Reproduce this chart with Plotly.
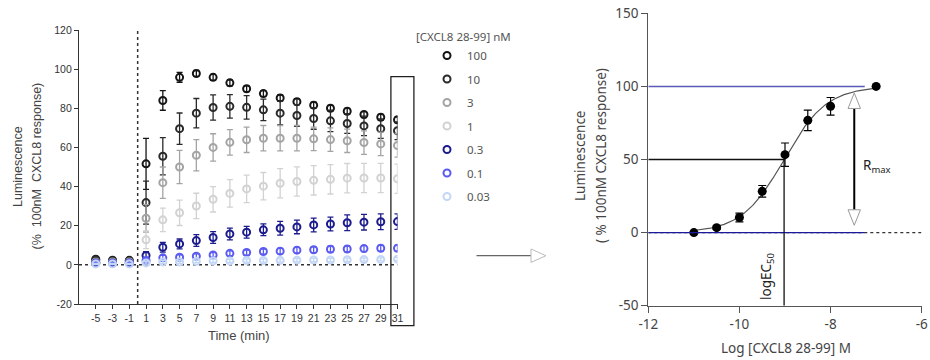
import numpy as np
import plotly.graph_objects as go

W, H = 930, 360

# ---- time course: luminescence (% of 100 nM CXCL8 response) ----
time_min = [-5, -3, -1, 1, 3, 5, 7, 9, 11, 13, 15, 17, 19, 21, 23, 25, 27, 29, 31]
x_ticks = time_min
y_ticks_left = [-20, 0, 20, 40, 60, 80, 100, 120]

conc_labels = ["100", "10", "3", "1", "0.3", "0.1", "0.03"]
conc_colors = ["#151515", "#2a2a2a", "#a4a4a4", "#d2d2d2", "#1c1c8e", "#5b5bf2", "#c4d6f6"]

resp_100 = [2.9, 2.4, 2.3, 51.6, 84.0, 95.8, 97.8, 95.8, 93.0, 90.0, 87.5, 85.3, 83.4, 81.6, 80.0, 78.5, 76.8, 75.4, 74.1]
err_100 = [0.8, 0.8, 0.8, 13.0, 5.0, 2.5, 1.5, 1.5, 1.5, 1.5, 1.5, 1.5, 1.5, 1.5, 1.5, 1.5, 1.5, 1.5, 1.5]
resp_10 = [2.5, 2.0, 2.0, 31.8, 55.5, 69.6, 77.5, 80.4, 81.0, 80.5, 79.2, 77.5, 76.3, 74.8, 73.6, 72.2, 71.0, 69.6, 68.5]
err_10 = [0.8, 0.8, 0.8, 11.0, 9.5, 8.0, 7.5, 6.5, 6.0, 6.0, 5.5, 6.0, 5.5, 5.5, 5.5, 5.0, 5.0, 5.0, 4.5]
resp_3 = [1.5, 1.5, 1.5, 23.8, 42.0, 50.0, 56.0, 60.0, 62.6, 63.9, 64.7, 64.7, 64.7, 64.4, 64.0, 63.4, 62.5, 61.8, 61.0]
err_3 = [0.6, 0.6, 0.6, 7.0, 8.0, 8.5, 8.0, 7.0, 6.5, 6.5, 6.5, 6.5, 6.5, 6.0, 6.0, 6.0, 6.0, 6.0, 6.0]
resp_1 = [1.0, 1.0, 1.0, 12.8, 23.0, 26.6, 30.1, 33.5, 36.5, 38.8, 40.2, 41.7, 42.6, 43.2, 43.7, 44.3, 44.4, 44.4, 44.0]
err_1 = [0.5, 0.5, 0.5, 4.5, 6.0, 6.5, 6.5, 6.5, 7.0, 7.0, 7.0, 7.5, 7.5, 7.5, 7.5, 7.5, 7.5, 7.5, 7.5]
resp_03 = [1.0, 1.0, 1.0, 4.8, 9.0, 10.7, 12.4, 14.0, 15.8, 16.7, 17.9, 18.7, 19.4, 20.4, 20.9, 21.5, 21.8, 22.0, 22.1]
err_03 = [0.5, 0.5, 0.5, 2.0, 2.5, 2.5, 3.0, 3.0, 3.0, 3.0, 3.0, 3.5, 3.5, 3.5, 3.5, 4.0, 4.0, 4.0, 4.0]
resp_01 = [0.8, 0.8, 0.8, 2.2, 3.6, 3.9, 4.4, 5.1, 5.9, 6.3, 6.8, 7.0, 7.5, 7.7, 8.0, 8.1, 8.3, 8.5, 8.5]
err_01 = [0.4, 0.4, 0.4, 1.0, 1.2, 1.2, 1.2, 1.2, 1.3, 1.3, 1.3, 1.4, 1.4, 1.5, 1.5, 1.5, 1.5, 1.5, 1.5]
resp_003 = [0.5, 0.5, 0.5, 1.0, 1.5, 1.5, 1.8, 2.0, 2.0, 2.2, 2.2, 2.3, 2.4, 2.5, 2.5, 2.6, 2.7, 2.8, 2.9]
err_003 = [0.3, 0.3, 0.3, 0.6, 0.7, 0.7, 0.7, 0.8, 0.8, 0.8, 0.8, 0.8, 0.8, 0.8, 0.8, 0.8, 0.8, 0.8, 0.8]

series_resp = [resp_100, resp_10, resp_3, resp_1, resp_03, resp_01, resp_003]
series_err = [err_100, err_10, err_3, err_1, err_03, err_01, err_003]

# ---- concentration-response at 31 min ----
log_conc = [-11, -10.5, -10, -9.5, -9, -8.5, -8, -7]
peak_resp = [0.0, 3.4, 10.3, 28.2, 53.3, 76.8, 86.4, 100.0]
peak_err = [0.6, 1.0, 3.0, 4.0, 8.0, 7.0, 6.0, 0.0]
fit_bottom, fit_top, fit_logec50, fit_hill = 0.0, 100.0, -9.02, 0.93
rmax_log_x = -7.48
x_ticks_right = [-12, -10, -8, -6]
y_ticks_right = [-50, 0, 50, 100, 150]

# ---- panel geometry (pixels) ----
L_X0, L_X1, L_Y0, L_Y1 = 79, 397.5, 30, 304
L_XR, L_YR = (-7, 31), (-20, 120)
R_X0, R_X1, R_Y0, R_Y1 = 648.3, 921.7, 13.3, 305.7
R_XR, R_YR = (-12, -6), (-50, 150)

ARIAL = "Liberation Sans, Arial, sans-serif"
SANS = "Noto Sans, Open Sans, sans-serif"


def px(x):
    return x / W


def py(y):
    return 1 - y / H


def lx2px(v):
    return L_X0 + (v - L_XR[0]) / (L_XR[1] - L_XR[0]) * (L_X1 - L_X0)


def rx2px(v):
    return R_X0 + (v - R_XR[0]) / (R_XR[1] - R_XR[0]) * (R_X1 - R_X0)


def ry2px(v):
    return R_Y1 - (v - R_YR[0]) / (R_YR[1] - R_YR[0]) * (R_Y1 - R_Y0)


def ticklabels(vals):
    # plain hyphen-minus for negative numbers
    return [str(v) for v in vals]


fig = go.Figure()

for lab, col, ys, es in zip(conc_labels, conc_colors, series_resp, series_err):
    fig.add_trace(go.Scatter(
        x=time_min, y=ys, mode="markers", name=lab, legendgroup=lab,
        xaxis="x", yaxis="y",
        marker=dict(symbol="circle-open", size=7, color=col, line=dict(width=2, color=col)),
        error_y=dict(type="data", array=es, visible=True, color=col, thickness=1.3, width=3),
    ))

# fitted four-parameter logistic curve
fit_x = np.linspace(log_conc[0], log_conc[-1], 200)
fit_y = fit_bottom + (fit_top - fit_bottom) / (1 + 10 ** ((fit_logec50 - fit_x) * fit_hill))
fig.add_trace(go.Scatter(
    x=fit_x, y=fit_y, mode="lines", xaxis="x2", yaxis="y2", showlegend=False,
    line=dict(color="#555555", width=1.2), hoverinfo="skip",
))
fig.add_trace(go.Scatter(
    x=log_conc, y=peak_resp, mode="markers", xaxis="x2", yaxis="y2", showlegend=False,
    marker=dict(symbol="circle", size=9, color="#000000"),
    error_y=dict(type="data", array=peak_err, visible=True, color="#000000", thickness=1.2, width=4),
))

shapes = []
# left panel reference lines
shapes.append(dict(type="line", xref="x", yref="y", x0=L_XR[0], x1=31, y0=0, y1=0,
                   line=dict(color="#333333", width=1.5, dash="dot"), layer="below"))
shapes.append(dict(type="line", xref="x", yref="paper", x0=0, x1=0, y0=py(L_Y1), y1=py(L_Y0),
                   line=dict(color="#333333", width=1.5, dash="dot"), layer="below"))
# box highlighting the 31 min readout
shapes.append(dict(type="rect", xref="paper", yref="paper",
                   x0=px(lx2px(31) - 6.6), x1=px(lx2px(31) + 16.4),
                   y0=py(325.7), y1=py(76.7),
                   line=dict(color="#222222", width=1.3)))

# right panel guide lines
shapes.append(dict(type="line", xref="x2", yref="y2", x0=R_XR[0], x1=R_XR[1], y0=0, y1=0,
                   line=dict(color="#333333", width=1.3, dash="dot")))
shapes.append(dict(type="line", xref="x2", yref="y2", x0=R_XR[0], x1=-7.25, y0=0, y1=0,
                   line=dict(color="#1a1a9a", width=1.4)))
shapes.append(dict(type="line", xref="x2", yref="y2", x0=R_XR[0], x1=-7.25, y0=fit_top, y1=fit_top,
                   line=dict(color="#5a5ab8", width=1.5)))
shapes.append(dict(type="line", xref="x2", yref="y2", x0=R_XR[0], x1=fit_logec50, y0=50, y1=50,
                   line=dict(color="#111111", width=1.3)))
shapes.append(dict(type="line", xref="x2", yref="y2", x0=fit_logec50, x1=fit_logec50, y0=R_YR[0], y1=50,
                   line=dict(color="#111111", width=1.3)))

# Rmax double arrow
ax_px = rx2px(rmax_log_x)
tip_top, tip_bot = ry2px(95.5), ry2px(5.0)
head_h, head_w = 15.5, 6.2
shapes.append(dict(type="line", xref="paper", yref="paper",
                   x0=px(ax_px), x1=px(ax_px), y0=py(tip_top + head_h), y1=py(tip_bot - head_h),
                   line=dict(color="#000000", width=2)))
for tip, sgn in ((tip_top, 1), (tip_bot, -1)):
    base = tip + sgn * head_h
    path = (f"M {px(ax_px)} {py(tip)} L {px(ax_px - head_w)} {py(base)} "
            f"L {px(ax_px + head_w)} {py(base)} Z")
    shapes.append(dict(type="path", xref="paper", yref="paper", path=path,
                       fillcolor="#ffffff", line=dict(color="#9a9a9a", width=1)))

# arrow linking the two panels
shapes.append(dict(type="line", xref="paper", yref="paper", x0=px(476.5), x1=px(531), y0=py(255.7), y1=py(255.7),
                   line=dict(color="#666666", width=1.3)))
shapes.append(dict(type="path", xref="paper", yref="paper",
                   path=f"M {px(546)} {py(255.7)} L {px(531)} {py(249)} L {px(531)} {py(262.4)} Z",
                   fillcolor="#ffffff", line=dict(color="#bbbbbb", width=1)))


def note(text, x, y, family, size, color="#444444", angle=0, xanchor="center"):
    return dict(text=text, xref="paper", yref="paper", x=px(x), y=py(y), textangle=angle,
                showarrow=False, xanchor=xanchor, yanchor="middle",
                font=dict(family=family, size=size, color=color))


annotations = [
    note("Luminescence", 18, 167, ARIAL, 12.5, angle=-90),
    note("(%  100nM  CXCL8 response)", 36, 166.5, ARIAL, 12.5, angle=-90),
    note("Time (min)", 238.5, 335, ARIAL, 13),
    note("Luminescence", 580, 156, SANS, 13.5, angle=-90),
    note("( % 100nM CXCL8 response)", 601, 156, SANS, 13.5, angle=-90),
    note("Log [CXCL8 28-99] M", 786, 348, SANS, 13.5),
    note("logEC<sub>50</sub>", 767, 277, SANS, 13.5, color="#222222", angle=-90),
    note("R<sub>max</sub>", 861, 166, SANS, 13.5, color="#222222", xanchor="left"),
    note("[CXCL8 28-99] nM", 414, 37, SANS, 11.5, color="#555555", xanchor="left"),
]

axis_common = dict(showgrid=False, zeroline=False, showline=True, ticks="outside", tickwidth=1,
                   tickmode="array", automargin=False)

fig.update_layout(
    width=W, height=H, margin=dict(l=0, r=0, t=0, b=0, pad=0, autoexpand=False),
    paper_bgcolor="#ffffff", plot_bgcolor="#ffffff",
    showlegend=True,
    legend=dict(
        x=px(427), y=py(41), xanchor="left", yanchor="top",
        traceorder="grouped", tracegroupgap=4.5, itemwidth=30,
        font=dict(family=SANS, size=11.5, color="#555555"),
        bgcolor="rgba(0,0,0,0)",
    ),
    xaxis=dict(
        domain=[px(L_X0), px(L_X1)], range=list(L_XR), anchor="y",
        tickvals=x_ticks, ticktext=ticklabels(x_ticks),
        linecolor="#333333", linewidth=1.2, ticklen=4, tickcolor="#333333",
        tickfont=dict(family=ARIAL, size=10.5, color="#333333"), **axis_common,
    ),
    yaxis=dict(
        domain=[py(L_Y1), py(L_Y0)], range=list(L_YR), anchor="x",
        tickvals=y_ticks_left, ticktext=ticklabels(y_ticks_left),
        linecolor="#333333", linewidth=1.2, ticklen=4, tickcolor="#333333",
        tickfont=dict(family=ARIAL, size=10.5, color="#333333"), **axis_common,
    ),
    xaxis2=dict(
        domain=[px(R_X0), px(R_X1)], range=list(R_XR), anchor="y2",
        tickvals=x_ticks_right, ticktext=ticklabels(x_ticks_right),
        linecolor="#555555", linewidth=1.2, ticklen=6, tickcolor="#555555",
        tickfont=dict(family=SANS, size=13.5, color="#444444"), **axis_common,
    ),
    yaxis2=dict(
        domain=[py(R_Y1), py(R_Y0)], range=list(R_YR), anchor="x2",
        tickvals=y_ticks_right, ticktext=ticklabels(y_ticks_right),
        linecolor="#555555", linewidth=1.2, ticklen=6, tickcolor="#555555",
        tickfont=dict(family=SANS, size=13.5, color="#444444"), **axis_common,
    ),
    shapes=shapes,
    annotations=annotations,
)

fig.write_html("out.html", post_script="document.body.style.margin='0px';")
